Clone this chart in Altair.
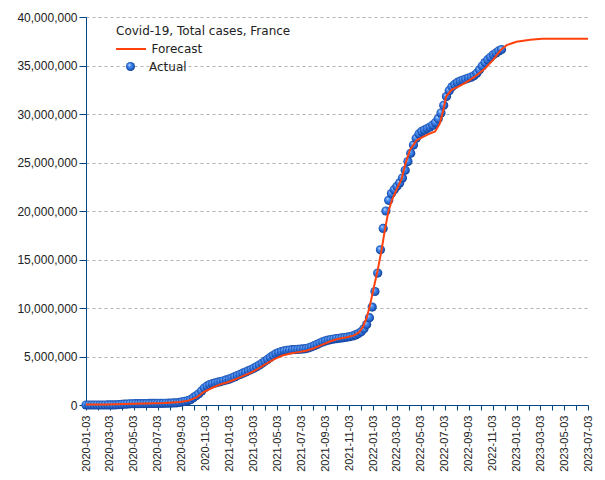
import altair as alt
import pandas as pd

START = "2020-01-03"

# Actual cumulative cases (millions), weekly from 2020-01-03
actual_values_m = [
    0, 0, 0, 0, 0, 0, 0, 0.001, 0.002, 0.005,
    0.01, 0.02, 0.04, 0.06, 0.08, 0.10, 0.12, 0.13, 0.14, 0.14,
    0.15, 0.15, 0.155, 0.16, 0.16, 0.165, 0.17, 0.17, 0.175, 0.18,
    0.19, 0.2, 0.21, 0.23, 0.26, 0.33, 0.38, 0.45, 0.55, 0.75,
    0.95, 1.15, 1.45, 1.75, 1.95, 2.1, 2.2, 2.28, 2.35, 2.42,
    2.5, 2.58, 2.66, 2.78, 2.9, 3.03, 3.15, 3.28, 3.4, 3.52,
    3.65, 3.8, 3.95, 4.12, 4.3, 4.5, 4.7, 4.9, 5.1, 5.28,
    5.4, 5.5, 5.58, 5.63, 5.67, 5.7, 5.72, 5.74, 5.76, 5.78,
    5.82, 5.9, 6.0, 6.12, 6.25, 6.38, 6.5, 6.6, 6.68, 6.75,
    6.8, 6.84, 6.88, 6.92, 6.96, 7.0, 7.05, 7.12, 7.22, 7.36,
    7.55, 7.85, 8.3, 9.0, 10.1, 11.7, 13.6, 16.0, 18.2, 20.0,
    21.1, 21.8, 22.2, 22.55, 22.9, 23.4, 24.2, 25.1, 25.95, 26.8,
    27.5, 27.95, 28.2, 28.35, 28.5, 28.65, 28.85, 29.1, 29.5, 30.1,
    30.9, 31.8, 32.4, 32.8, 33.05, 33.25, 33.4, 33.5, 33.6, 33.7,
    33.8, 33.95, 34.2, 34.55, 34.95, 35.3, 35.6, 35.85, 36.1, 36.3,
    36.5, 36.65,
]

# Forecast (millions) at day offsets from 2020-01-03
forecast_days = [
    0, 50, 100, 150, 200, 240, 260, 280, 300, 320,
    340, 360, 380, 400, 420, 440, 460, 480, 500, 520,
    540, 560, 580, 600, 620, 640, 660, 680, 695, 705,
    714, 722, 731, 743, 752, 760, 769, 778, 790, 803,
    812, 824, 841, 855, 870, 888, 900, 909, 916, 930,
    951, 976, 994, 1015, 1036, 1055, 1070, 1095, 1130, 1160,
    1277,
]
forecast_values_m = [
    0.05, 0.06, 0.1, 0.15, 0.2, 0.3, 0.45, 0.75, 1.35, 1.75,
    2.1, 2.35, 2.65, 3.0, 3.35, 3.8, 4.3, 4.75, 5.1, 5.3,
    5.45, 5.6, 5.85, 6.2, 6.55, 6.8, 6.95, 7.15, 7.5, 8.1,
    9.0, 10.2, 11.9, 14.1, 16.0, 18.0, 19.9, 21.1, 22.2, 23.3,
    24.8, 26.3, 27.3, 27.6, 27.9, 28.2, 29.0, 30.4, 31.8, 32.5,
    32.9, 33.5, 34.0, 34.7, 35.6, 36.6, 37.1, 37.45, 37.65, 37.75,
    37.75,
]

y_ticks = [0, 5_000_000, 10_000_000, 15_000_000, 20_000_000,
           25_000_000, 30_000_000, 35_000_000, 40_000_000]

actual_dates = pd.date_range(START, periods=len(actual_values_m), freq="7D")
forecast_dates = pd.Timestamp(START) + pd.to_timedelta(forecast_days, unit="D")

actual_df = pd.DataFrame({
    "date": actual_dates.strftime("%Y-%m-%d"),
    "cases": [v * 1e6 for v in actual_values_m],
    "series": "Actual",
})
forecast_df = pd.DataFrame({
    "date": pd.DatetimeIndex(forecast_dates).strftime("%Y-%m-%d"),
    "cases": [v * 1e6 for v in forecast_values_m],
    "series": "Forecast",
})

AXIS_BLUE = "#004586"
LABEL_COLOR = "#222222"
FONT = "Liberation Sans"

month_ticks = [alt.DateTime(year=2020 + i // 12, month=i % 12 + 1, date=3) for i in range(43)]

x_enc = alt.X(
    "date:T",
    scale=alt.Scale(domain=[alt.DateTime(year=2020, month=1, date=3),
                            alt.DateTime(year=2023, month=7, date=3)], nice=False),
    axis=alt.Axis(
        values=month_ticks,
        labelExpr="month(datum.value) % 2 == 0 ? timeFormat(datum.value, '%Y-%m-%d') : ''",
        labelAngle=270, labelOverlap=False, labelFlush=False,
        tickSize=5, labelPadding=5, grid=False, title=None,
        domainColor=AXIS_BLUE, tickColor=AXIS_BLUE,
        labelFont=FONT, labelFontSize=11, labelColor=LABEL_COLOR,
    ),
)
y_enc = alt.Y(
    "cases:Q",
    scale=alt.Scale(domain=[0, 40_000_000], nice=False),
    axis=alt.Axis(
        values=y_ticks, format=",d", title=None,
        grid=True, gridDash=[3, 3], gridColor="#b3b3b3", gridWidth=1,
        tickSize=7, labelPadding=2,
        domainColor=AXIS_BLUE, tickColor=AXIS_BLUE,
        labelFont=FONT, labelFontSize=12, labelColor=LABEL_COLOR,
    ),
)

sphere = alt.RadialGradient(
    gradient="radial",
    stops=[
        alt.GradientStop(offset=0, color="#d6e6ff"),
        alt.GradientStop(offset=0.3, color="#4d92f2"),
        alt.GradientStop(offset=0.7, color="#2262cc"),
        alt.GradientStop(offset=1, color="#0b2f7a"),
    ],
    x1=0.35, y1=0.3, r1=0, x2=0.5, y2=0.5, r2=0.55,
)

points = alt.Chart(actual_df).mark_point(
    filled=True, fill=sphere, size=85, opacity=1, strokeWidth=0
).encode(
    x=x_enc,
    y=y_enc,
    shape=alt.Shape(
        "series:N",
        scale=alt.Scale(domain=["Actual"], range=["circle"]),
        legend=alt.Legend(
            title=None, orient="none", legendX=30, legendY=43.5,
            symbolSize=81, symbolOffset=8.5, labelOffset=12.5,
            symbolStrokeWidth=0, padding=0,
            labelFont="DejaVu Sans", labelFontSize=12, labelColor=LABEL_COLOR,
        ),
    ),
)

line = alt.Chart(forecast_df).mark_line(strokeWidth=2).encode(
    x=x_enc,
    y=y_enc,
    color=alt.Color(
        "series:N",
        scale=alt.Scale(domain=["Forecast"], range=["#ff420e"]),
        legend=alt.Legend(
            title="Covid-19, Total cases, France", orient="none",
            legendX=30, legendY=9, padding=0,
            symbolType="stroke", symbolSize=900, symbolStrokeWidth=2,
            symbolOffset=-1, labelOffset=4.5, titlePadding=-5,
            titleFont="DejaVu Sans", titleFontSize=12, titleFontWeight="normal",
            titleColor=LABEL_COLOR,
            labelFont="DejaVu Sans", labelFontSize=12, labelColor=LABEL_COLOR,
        ),
    ),
)

chart = alt.layer(points, line).resolve_legend(color="independent", shape="independent").properties(
    width=502,
    height=388,
    autosize=alt.AutoSizeParams(type="none"),
    padding={"left": 86, "top": 17, "right": 17, "bottom": 75},
    background="white",
).configure_view(stroke=None)

chart.save("out.html", embed_options={"renderer": "svg", "actions": False})
